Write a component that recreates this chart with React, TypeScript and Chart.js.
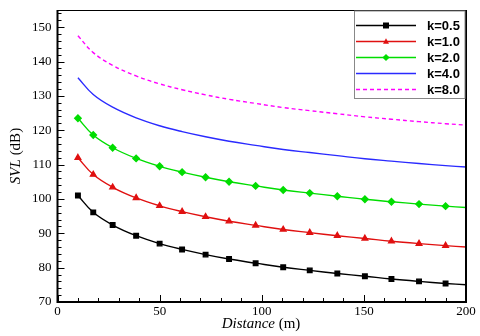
import React, { useEffect, useRef } from 'react';
import { Chart, registerables } from 'chart.js';

Chart.register(...registerables);

const distance = [10, 17.5, 27, 38.5, 50, 61, 72.5, 84, 97, 110.5, 123.5, 137, 150.5, 163.5, 177, 190, 200];
const svlK05 = [101.0, 96.1, 92.4, 89.3, 87.0, 85.3, 83.8, 82.5, 81.3, 80.1, 79.2, 78.3, 77.5, 76.7, 76.0, 75.4, 75.0];
const svlK10 = [112.0, 107.1, 103.4, 100.3, 98.0, 96.3, 94.8, 93.5, 92.3, 91.1, 90.2, 89.3, 88.5, 87.7, 87.0, 86.4, 86.0];
const svlK20 = [123.5, 118.6, 114.9, 111.8, 109.5, 107.8, 106.3, 105.0, 103.8, 102.6, 101.7, 100.8, 99.9, 99.2, 98.5, 97.9, 97.5];
const svlK40 = [135.3, 130.4, 126.7, 123.6, 121.3, 119.6, 118.1, 116.8, 115.6, 114.4, 113.5, 112.6, 111.7, 111.0, 110.3, 109.7, 109.3];
const svlK80 = [147.5, 142.6, 138.9, 135.8, 133.5, 131.8, 130.3, 129.0, 127.8, 126.6, 125.7, 124.8, 123.9, 123.2, 122.5, 121.9, 121.5];
const seriesLabels = ['k=0.5', 'k=1.0', 'k=2.0', 'k=4.0', 'k=8.0'];
const xAxisTitle = ['Distance', ' (m)'];
const yAxisTitle = ['SVL', ' (dB)'];

const SERIF = '"Liberation Serif", "Times New Roman", serif';
const SANS = '"Liberation Sans", Arial, sans-serif';

type Style = { color: string; marker: string | false; dash: number[] };
const styles: Style[] = [
  { color: '#000000', marker: 'rect', dash: [] },
  { color: '#e01010', marker: 'triangle', dash: [] },
  { color: '#00dd00', marker: 'rectRot', dash: [] },
  { color: '#2a2aff', marker: false, dash: [] },
  { color: '#ff00ff', marker: false, dash: [4, 3] },
];

function drawMarker(ctx: CanvasRenderingContext2D, kind: string, x: number, y: number, r: number) {
  ctx.beginPath();
  if (kind === 'rect') {
    ctx.rect(x - r, y - r, 2 * r, 2 * r);
  } else if (kind === 'triangle') {
    ctx.moveTo(x, y - r * 1.1);
    ctx.lineTo(x + r, y + r * 0.75);
    ctx.lineTo(x - r, y + r * 0.75);
    ctx.closePath();
  } else if (kind === 'rectRot') {
    ctx.moveTo(x, y - r * 1.2);
    ctx.lineTo(x + r * 1.2, y);
    ctx.lineTo(x, y + r * 1.2);
    ctx.lineTo(x - r * 1.2, y);
    ctx.closePath();
  }
  ctx.fill();
}

const decorPlugin = {
  id: 'decor',
  afterDraw(chart: any) {
    const { ctx, chartArea: a, scales } = chart;
    const xs = scales.x;
    const ys = scales.y;
    ctx.save();
    ctx.strokeStyle = '#000';
    ctx.lineWidth = 1;
    for (let v = 0; v <= 200; v += 10) {
      const px = Math.round(xs.getPixelForValue(v)) + 0.5;
      const len = v % 50 === 0 ? 7 : 4;
      ctx.beginPath();
      ctx.moveTo(px, a.bottom);
      ctx.lineTo(px, a.bottom - len);
      ctx.stroke();
    }
    for (let v = 70; v <= 154; v += 2) {
      const py = Math.round(ys.getPixelForValue(v)) + 0.5;
      const len = v % 10 === 0 ? 7 : 4;
      ctx.beginPath();
      ctx.moveTo(a.left, py);
      ctx.lineTo(a.left + len, py);
      ctx.stroke();
    }
    ctx.lineWidth = 1;
    ctx.beginPath();
    ctx.moveTo(a.left, a.top + 0.5);
    ctx.lineTo(a.right, a.top + 0.5);
    ctx.stroke();
    ctx.lineWidth = 2;
    ctx.beginPath();
    ctx.moveTo(a.right, a.top);
    ctx.lineTo(a.right, a.bottom);
    ctx.lineTo(a.left, a.bottom);
    ctx.lineTo(a.left, a.top);
    ctx.stroke();

    // legend
    const lx0 = 354.5, lx1 = a.right - 1, ly0 = a.top + 1, ly1 = 98.5;
    ctx.fillStyle = '#fff';
    ctx.fillRect(lx0, ly0, lx1 - lx0, ly1 - ly0);
    ctx.strokeStyle = '#888';
    ctx.lineWidth = 1;
    ctx.strokeRect(lx0, ly0, lx1 - lx0, ly1 - ly0);
    const rows = [25.5, 41.5, 57.5, 73.5, 89.5];
    ctx.font = 'bold 13px ' + SANS;
    ctx.textBaseline = 'middle';
    ctx.textAlign = 'left';
    chart.data.datasets.forEach((ds: any, i: number) => {
      const st = styles[i];
      const y = rows[i];
      ctx.strokeStyle = st.color;
      ctx.lineWidth = 1.5;
      ctx.setLineDash(st.dash);
      ctx.beginPath();
      ctx.moveTo(356, y);
      ctx.lineTo(416, y);
      ctx.stroke();
      ctx.setLineDash([]);
      if (st.marker) {
        ctx.fillStyle = st.color;
        drawMarker(ctx, st.marker, 386, y, 3);
      }
      ctx.fillStyle = '#000';
      ctx.fillText(ds.label, 427, y + 1);
    });

    // axis titles
    ctx.fillStyle = '#000';
    ctx.textBaseline = 'middle';
    const italic = 'italic 15px ' + SERIF;
    const normal = '15px ' + SERIF;
    ctx.font = italic;
    const w1 = ctx.measureText(xAxisTitle[0]).width;
    ctx.font = normal;
    const w2 = ctx.measureText(xAxisTitle[1]).width;
    const xStart = 261 - (w1 + w2) / 2;
    ctx.font = italic;
    ctx.fillText(xAxisTitle[0], xStart, 324);
    ctx.font = normal;
    ctx.fillText(xAxisTitle[1], xStart + w1, 324);

    ctx.save();
    ctx.translate(16, 156);
    ctx.rotate(-Math.PI / 2);
    ctx.font = italic;
    const v1 = ctx.measureText(yAxisTitle[0]).width;
    ctx.font = normal;
    const v2 = ctx.measureText(yAxisTitle[1]).width;
    const yStart = -(v1 + v2) / 2;
    ctx.font = italic;
    ctx.fillText(yAxisTitle[0], yStart, 0);
    ctx.font = normal;
    ctx.fillText(yAxisTitle[1], yStart + v1, 0);
    ctx.restore();

    ctx.restore();
  },
};

export default function App() {
  const ref = useRef<HTMLCanvasElement | null>(null);
  useEffect(() => {
    if (!ref.current) return;
    const seriesValues = [svlK05, svlK10, svlK20, svlK40, svlK80];
    const datasets = seriesValues.map((vals, i) => {
      const st = styles[i];
      return {
        label: seriesLabels[i],
        data: distance.map((d, j) => ({ x: d, y: vals[j] })),
        borderColor: st.color,
        backgroundColor: st.color,
        borderWidth: 1.4,
        borderDash: st.dash,
        tension: 0.4,
        pointStyle: st.marker || 'circle',
        pointRadius: distance.map((d, j) => (st.marker && j < distance.length - 1 ? 3.2 : 0)),
        pointHoverRadius: 0,
        fill: false,
      };
    });
    const chart = new Chart(ref.current, {
      type: 'line',
      data: { datasets },
      plugins: [decorPlugin],
      options: {
        animation: false,
        responsive: false,
        events: [],
        layout: { padding: { top: 10, right: 14, left: 0, bottom: 0 } },
        plugins: { legend: { display: false }, tooltip: { enabled: false } },
        scales: {
          x: {
            type: 'linear',
            min: 0,
            max: 200,
            grid: { display: false, drawTicks: false },
            border: { display: false },
            ticks: {
              stepSize: 50,
              includeBounds: false,
              maxRotation: 0,
              padding: 2,
              color: '#000',
              font: { family: SERIF, size: 13 },
            },
            afterFit: (s: any) => { s.height = 34; },
          },
          y: {
            type: 'linear',
            min: 70,
            max: 155,
            grid: { display: false, drawTicks: false },
            border: { display: false },
            ticks: {
              stepSize: 10,
              includeBounds: false,
              padding: 6,
              color: '#000',
              font: { family: SERIF, size: 13, lineHeight: 0.5 },
            },
            afterFit: (s: any) => { s.width = 57.5; },
          },
        },
      },
    });
    return () => chart.destroy();
  }, []);
  return (
    <div style={{ position: 'absolute', left: 0, top: 0, width: 480, height: 336, background: '#fff' }}>
      <canvas ref={ref} width={480} height={336} style={{ width: 480, height: 336 }} />
    </div>
  );
}
